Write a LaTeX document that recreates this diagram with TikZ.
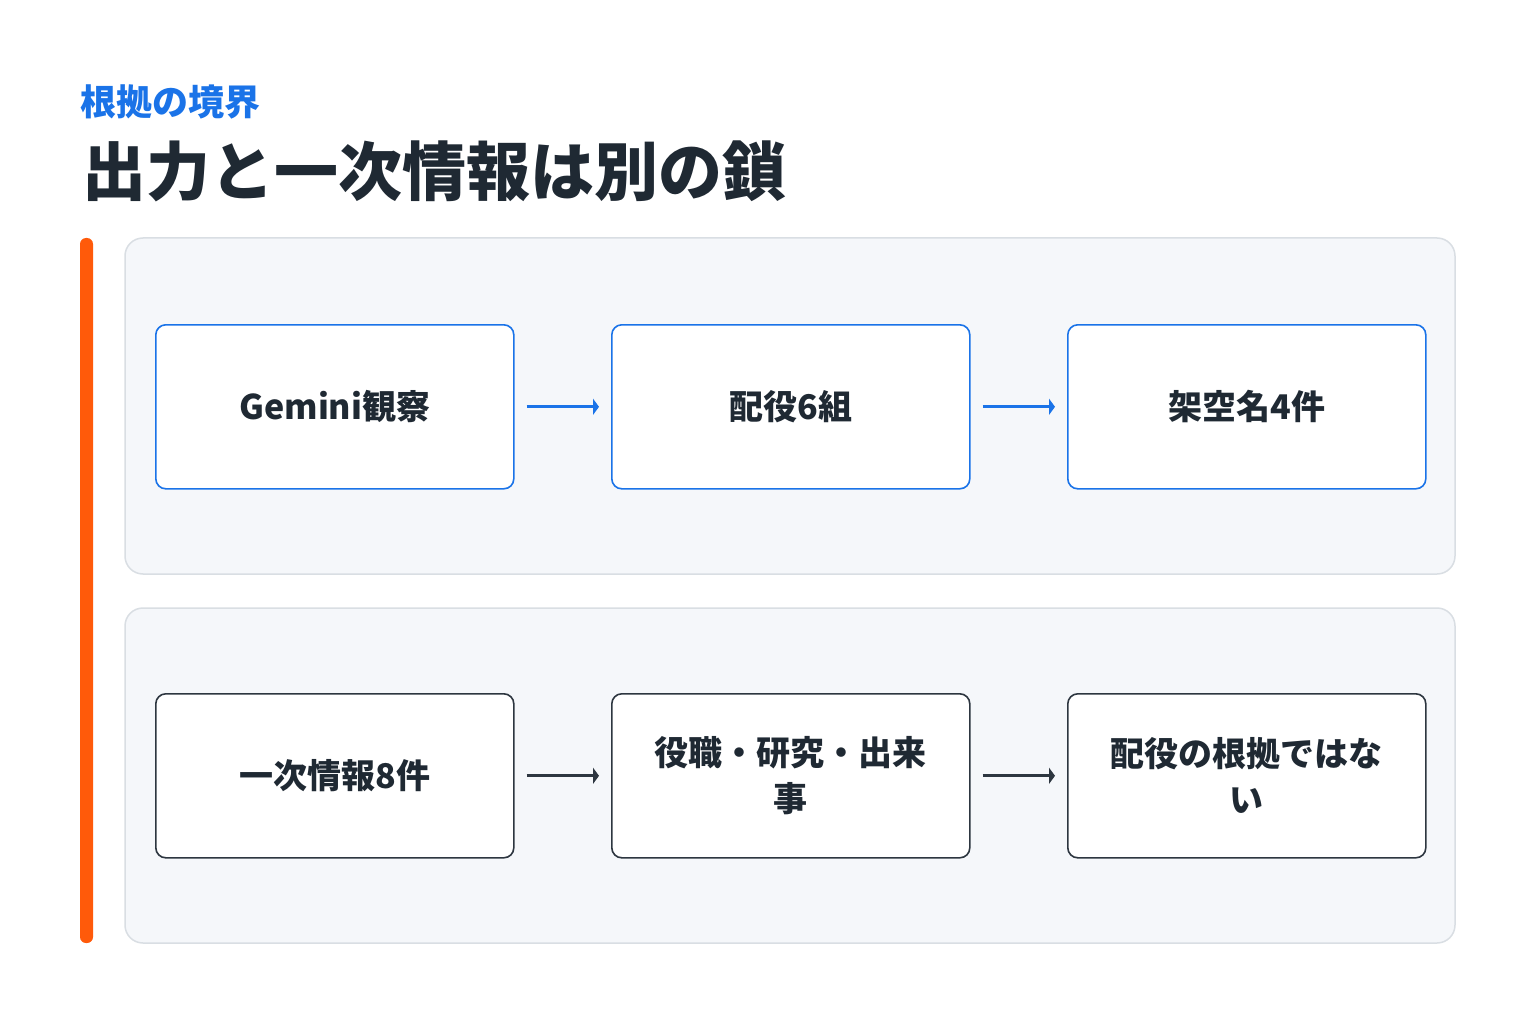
\documentclass[tikz,border=0pt]{standalone}
\usepackage{fontspec}
\setmainfont{Noto Sans CJK JP}
\usetikzlibrary{arrows.meta}
\definecolor{blu}{HTML}{1A73E8}
\definecolor{ink}{HTML}{1F2933}
\definecolor{dk}{HTML}{2D3640}
\definecolor{org}{HTML}{FF5A0A}
\definecolor{pnl}{HTML}{F5F7FA}
\definecolor{pbd}{HTML}{D9DEE3}
\begin{document}
\begin{tikzpicture}[x=1pt,y=-1pt,
 panel/.style={draw=pbd,fill=pnl,line width=1.5pt,rounded corners=18pt},
 box/.style={draw=#1,fill=white,line width=1.6pt,rounded corners=10pt,minimum width=358pt,minimum height=164pt,align=center,font=\fontsize{34}{46}\selectfont\bfseries,text=ink,anchor=north west},
 arr/.style={draw=#1,line width=3pt,-{Triangle[width=16pt,length=6pt]}}]
\useasboundingbox (0,0) rectangle (1536,1024);
\fill[white] (0,0) rectangle (1536,1024);
\node[anchor=west,inner sep=0,text=blu,font=\fontsize{36}{40}\selectfont\bfseries] (sub) at (80,102) {根拠の境界};
\node[anchor=west,inner sep=0,text=ink,font=\fontsize{64}{70}\selectfont\bfseries] (ttl) at (82,171) {出力と一次情報は別の鎖};
\fill[org,rounded corners=6pt] (80,238) rectangle (93,943);
\draw[panel] (125,238) rectangle (1455,574);
\draw[panel] (125,608) rectangle (1455,943);
\node[box=blu] (a1) at (155,324) {Gemini観察};
\node[box=blu] (a2) at (611,324) {配役6組};
\node[box=blu] (a3) at (1067,324) {架空名4件};
\node[box=dk] (b1) at (155,693) {一次情報8件};
\node[box=dk] (b2) at (611,693) {役職・研究・出来\\事};
\node[box=dk] (b3) at (1067,693) {配役の根拠ではな\\い};
\draw[arr=blu] ([xshift=12pt]a1.east) -- ([xshift=-12pt]a2.west);
\draw[arr=blu] ([xshift=12pt]a2.east) -- ([xshift=-12pt]a3.west);
\draw[arr=dk] ([xshift=12pt]b1.east) -- ([xshift=-12pt]b2.west);
\draw[arr=dk] ([xshift=12pt]b2.east) -- ([xshift=-12pt]b3.west);
\end{tikzpicture}
\end{document}
